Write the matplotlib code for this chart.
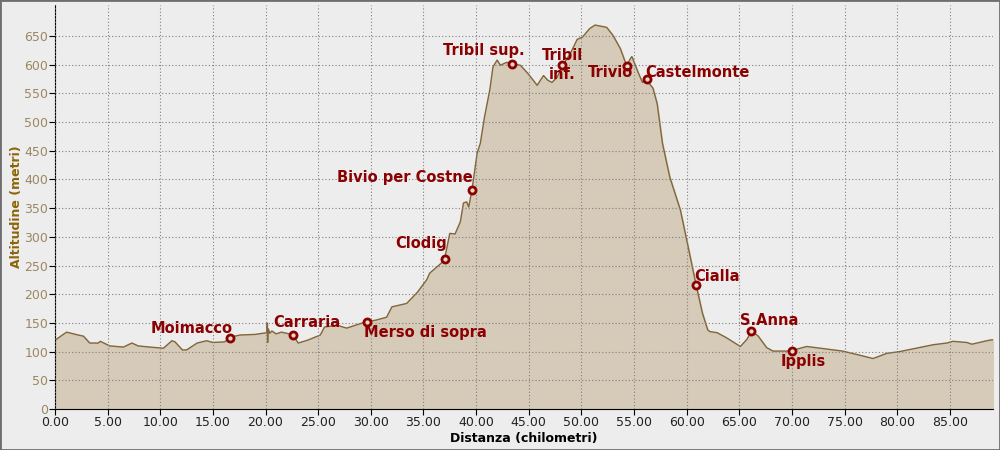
import matplotlib
matplotlib.use('Agg')
import matplotlib.pyplot as plt
from matplotlib.patches import Rectangle

# profilo altimetrico (km, m)
dist = [0, 1.1, 2.2, 2.7, 3.3, 4.1, 4.3, 5.2, 6.5, 7.3, 7.9, 9.0, 10.3, 11.1, 11.4,
        12.1, 12.5, 13.5, 14.4, 15.0, 16.1, 16.8, 17.6, 19.0, 20.1, 20.15, 20.2, 20.25,
        20.4, 20.6, 21.0, 21.5, 22.0, 22.6, 23.1, 24.0, 25.2, 25.6, 26.8, 27.7, 29.2,
        29.6, 30.5, 31.5, 32.0, 33.4, 34.4, 35.3, 35.6, 36.3, 36.8, 37.0, 37.5, 38.0,
        38.5, 38.8, 39.1, 39.3, 39.6, 40.1, 40.4, 40.8, 41.3, 41.6, 42.0, 42.3, 42.9,
        43.4, 44.2, 44.9, 45.8, 46.4, 46.8, 47.2, 47.7, 48.2, 48.7, 49.1, 49.6, 50.1, 50.8,
        51.3, 52.4, 53.0, 53.7, 54.3, 54.7, 54.8, 55.4, 55.8, 56.2, 56.8, 57.2, 57.7,
        58.4, 59.4, 60.0, 60.9, 61.5, 62.0, 62.2, 62.9, 63.8, 65.1, 65.7, 66.2, 66.8,
        67.6, 68.2, 69.8, 71.4, 72.7, 74.8, 76.4, 77.7, 79.0, 80.2, 81.8, 83.4, 84.7,
        85.3, 86.6, 87.1, 88.5, 89.1]
alt = [120, 134, 129, 127, 115, 115, 118, 110, 108, 115, 110, 108, 106, 119, 117,
       103, 103, 115, 119, 116, 117, 126, 129, 130, 133, 150, 116, 140,
       132, 136, 131, 134, 132, 129, 115, 120, 129, 143, 146, 141, 150,
       152, 155, 160, 178, 184, 203, 225, 237, 248, 256, 261, 306, 305,
       326, 359, 361, 352, 381, 446, 463, 509, 556, 596, 608, 599, 604,
       601, 599, 585, 564, 581, 573, 569, 578, 599, 612, 625, 644, 648, 663,
       669, 665, 651, 628, 598, 612, 614, 586, 569, 573, 559, 532, 463,
       404, 347, 295, 216, 167, 138, 135, 133, 124, 109, 121, 136, 127,
       107, 101, 101, 109, 106, 101, 94, 88, 97, 100, 106, 112, 115,
       118, 116, 113, 119, 121]

# punti di passaggio
nomi = ['Moimacco', 'Carraria', 'Merso di sopra', 'Clodig', 'Bivio per Costne',
        'Tribil sup.', 'Tribil\ninf.', 'Trivio', 'Castelmonte', 'Cialla', 'S.Anna', 'Ipplis']
wp_km = [16.6, 22.6, 29.6, 37.0, 39.6, 43.4, 48.2, 54.3, 56.2, 60.9, 66.1, 70.0]
wp_alt = [124, 129, 152, 262, 382, 601, 599, 598, 575, 216, 136, 101]
# posizione etichette (offset in pixel, allineamento)
offs = [(3, 9, 'right'), (-20, 13, 'left'), (-3, -11, 'left'), (2, 15, 'right'),
        (1, 12, 'right'), (13, 14, 'right'), (0, 0, 'center'), (6, -7, 'right'),
        (-1, 6, 'left'), (-2, 9, 'left'), (-11, 10, 'left'), (-11, -10, 'left')]

bg = '#ededed'
fig = plt.figure(figsize=(10, 4.5), dpi=100, facecolor=bg)
ax = fig.add_axes([0.055, 0.091, 0.938, 0.898], facecolor=bg)

ax.fill_between(dist, alt, 0, color='#d6cab9', zorder=1)
ax.plot(dist, alt, color='#80663a', lw=1, zorder=2)

ax.set_xlim(0, 89.1)
ax.set_ylim(0, 704)
ax.set_xticks([i * 5 for i in range(18)])
ax.set_xticklabels(['%.2f' % (i * 5) for i in range(18)])
ax.set_yticks(range(0, 651, 50))
ax.grid(True, color='#808080', ls=(0, (1, 2)), lw=0.8, zorder=3)
ax.set_axisbelow(False)

for s in ['top', 'right']:
    ax.spines[s].set_visible(False)
ax.tick_params(axis='x', labelsize=9, labelcolor='#222222', length=4, pad=1)
ax.tick_params(axis='y', labelsize=9, labelcolor='#9b8762', length=4, pad=1)
ax.set_xlabel('Distanza (chilometri)', fontsize=9, fontweight='bold', color='black', labelpad=2)
ax.set_ylabel('Altitudine (metri)', fontsize=9, fontweight='bold', color='#8b6508', labelpad=1)

red = '#8b0000'
fs = 10.5
ax.scatter(wp_km, wp_alt, s=26, facecolor='#e8d8c8', edgecolor=red, linewidth=2, zorder=5)
for nome, x, y, (dx, dy, ha) in zip(nomi, wp_km, wp_alt, offs):
    if '\n' in nome:
        ax.annotate('Tribil', (x, y), xytext=(0, 10), textcoords='offset pixels',
                    ha='center', va='center', color=red, fontsize=fs, fontweight='bold', zorder=6)
        ax.annotate('inf.', (x, y), xytext=(0, -9), textcoords='offset pixels',
                    ha='center', va='center', color=red, fontsize=fs, fontweight='bold', zorder=6)
        continue
    ax.annotate(nome, (x, y), xytext=(dx, dy), textcoords='offset pixels',
                ha=ha, va='center', color=red, fontsize=fs, fontweight='bold', zorder=6)

fig.patches.append(Rectangle((0, 0), 1, 1, transform=fig.transFigure, fill=False,
                             edgecolor='#6e6e6e', lw=2))
fig.savefig('out.png', dpi=100, facecolor=bg)
